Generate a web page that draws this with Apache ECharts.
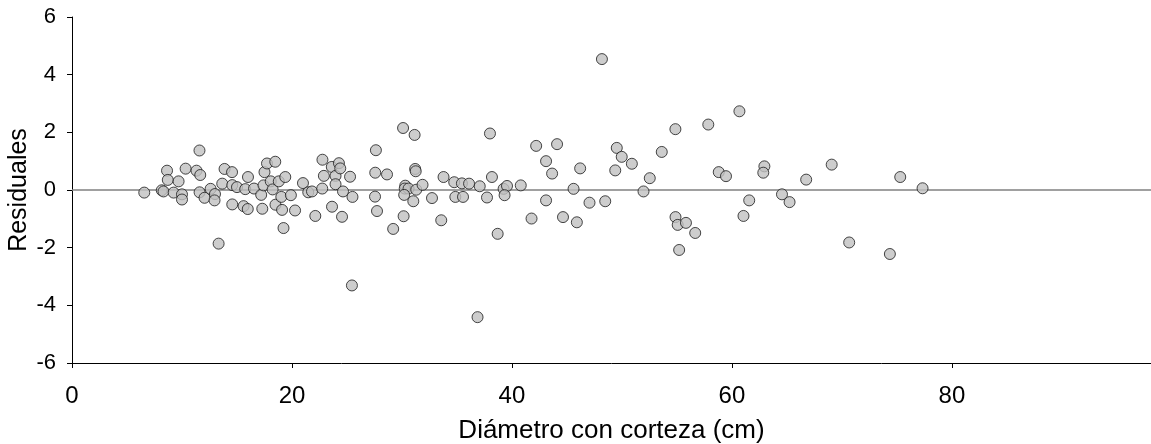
<!DOCTYPE html>
<html>
<head>
<meta charset="utf-8">
<script src="https://cdn.jsdelivr.net/npm/echarts@6/dist/echarts.min.js"></script>
<style>
html,body{margin:0;padding:0;background:#fff;}
#chart{width:1151px;height:444px;}
</style>
</head>
<body>
<div id="chart"></div>
<script>
const xTitle = 'Diámetro con corteza (cm)';
const yTitle = 'Residuales';
const diametro = [
6.57,8.16,8.32,8.64,8.71,9.24,9.69,10.0,10.0,10.33,
11.32,11.59,11.66,11.6,12.05,12.6,13.0,12.96,13.33,13.66,
13.87,14.55,14.57,14.57,15.0,15.6,15.75,16.0,15.98,16.55,
17.2,17.3,17.41,17.5,17.73,18.07,18.24,18.48,18.5,18.8,
19.03,19.1,19.39,19.23,19.9,20.28,21.0,21.48,21.82,22.12,
22.75,22.77,22.9,23.64,23.62,23.96,23.96,24.27,24.39,24.55,
24.64,25.28,25.5,25.45,27.63,27.57,27.55,27.73,28.64,29.2,
30.1,30.15,30.3,30.25,30.6,30.2,31.03,31.15,31.2,31.25,
31.3,31.87,32.73,33.57,33.78,34.75,34.85,35.45,35.55,36.1,
36.87,37.07,37.73,38.0,38.18,38.7,39.24,39.55,39.33,40.8,
41.78,42.2,43.1,43.1,43.65,44.1,44.64,45.6,45.9,46.2,
47.05,48.18,48.48,49.53,49.98,49.39,50.9,51.96,52.53,53.62,
54.86,54.87,55.07,55.82,55.2,56.66,57.85,58.8,59.46,60.68,
61.05,61.57,62.95,62.85,64.55,65.24,66.75,69.07,70.66,74.36,
75.3,77.33
];
const residuales = [
-0.09,-0.01,-0.05,0.67,0.35,-0.09,0.30,-0.15,-0.33,0.74,
0.67,1.37,0.52,-0.08,-0.27,0.04,-0.14,-0.36,-1.86,0.22,
0.73,0.62,0.17,-0.50,0.10,-0.56,0.03,0.45,-0.66,0.05,
-0.17,-0.65,0.16,0.62,0.92,0.30,0.02,0.98,-0.51,0.30,
-0.24,-0.69,0.45,-1.32,-0.18,-0.71,0.24,-0.08,-0.05,-0.90,
0.05,1.05,0.49,-0.58,0.80,0.49,0.20,0.93,0.75,-0.93,
-0.05,0.46,-0.24,-3.31,1.38,0.60,-0.23,-0.73,0.54,-1.35,
2.15,-0.91,0.15,0.05,0.05,-0.17,-0.39,1.91,0.73,0.65,
0.01,0.18,-0.28,-1.05,0.45,0.27,-0.24,0.23,-0.24,0.22,
-4.41,0.13,-0.26,1.96,0.45,-1.52,0.04,0.14,-0.18,0.16,
-0.99,1.53,1.00,-0.36,0.57,1.59,-0.94,0.04,-1.12,0.75,
-0.44,4.54,-0.39,1.46,1.15,0.68,0.91,-0.05,0.41,1.32,
2.11,-0.94,-1.21,-1.14,-2.08,-1.49,2.27,0.62,0.48,2.73,
-0.90,-0.36,0.82,0.60,-0.15,-0.42,0.36,0.88,-1.82,-2.22,
0.45,0.06
];
const xTicks = [0, 20, 40, 60, 80];
const xMax = 98.1;
const yTicks = [-6, -4, -2, 0, 2, 4, 6];
const zeroLine = [[0, 0], [xMax, 0]];

const points = diametro.map((d, i) => [d, residuales[i]]);
const FONT = 'Liberation Sans, Arial, sans-serif';

const chart = echarts.init(document.getElementById('chart'), null, {renderer: 'canvas'});
chart.setOption({
  animation: false,
  backgroundColor: '#ffffff',
  grid: {left: 72, right: 0, top: 17, bottom: 81, containLabel: false, outerBoundsMode: 'none'},
  xAxis: {
    type: 'value',
    min: xTicks[0], max: xMax, interval: 20,
    name: xTitle, nameLocation: 'middle', nameGap: 55, nameMoveOverlap: false,
    nameTextStyle: {fontFamily: FONT, fontSize: 26, color: '#000'},
    axisLine: {show: true, onZero: false, lineStyle: {color: '#000', width: 1}},
    axisTick: {show: true, length: 5, customValues: xTicks, lineStyle: {color: '#000'}},
    axisLabel: {fontFamily: FONT, fontSize: 24, color: '#000', margin: 21, customValues: xTicks},
    splitLine: {show: false}
  },
  yAxis: {
    type: 'value',
    min: yTicks[0], max: yTicks[yTicks.length - 1], interval: 2,
    name: yTitle, nameLocation: 'middle', nameGap: 40, nameMoveOverlap: false,
    nameTextStyle: {fontFamily: FONT, fontSize: 25, color: '#000'},
    axisLine: {show: true, onZero: false, lineStyle: {color: '#000', width: 1}},
    axisTick: {show: true, length: 5, lineStyle: {color: '#000'}},
    axisLabel: {fontFamily: FONT, fontSize: 22, color: '#000', margin: 16},
    splitLine: {show: false}
  },
  series: [
    {
      type: 'line',
      data: zeroLine,
      symbol: 'none',
      silent: true,
      z: 1,
      lineStyle: {color: '#808080', width: 1.5}
    },
    {
      type: 'scatter',
      data: points,
      symbol: 'circle',
      symbolSize: 11,
      z: 3,
      itemStyle: {color: '#c0c0c0', borderColor: '#1a1a1a', borderWidth: 1}
    }
  ]
});
</script>
</body>
</html>
